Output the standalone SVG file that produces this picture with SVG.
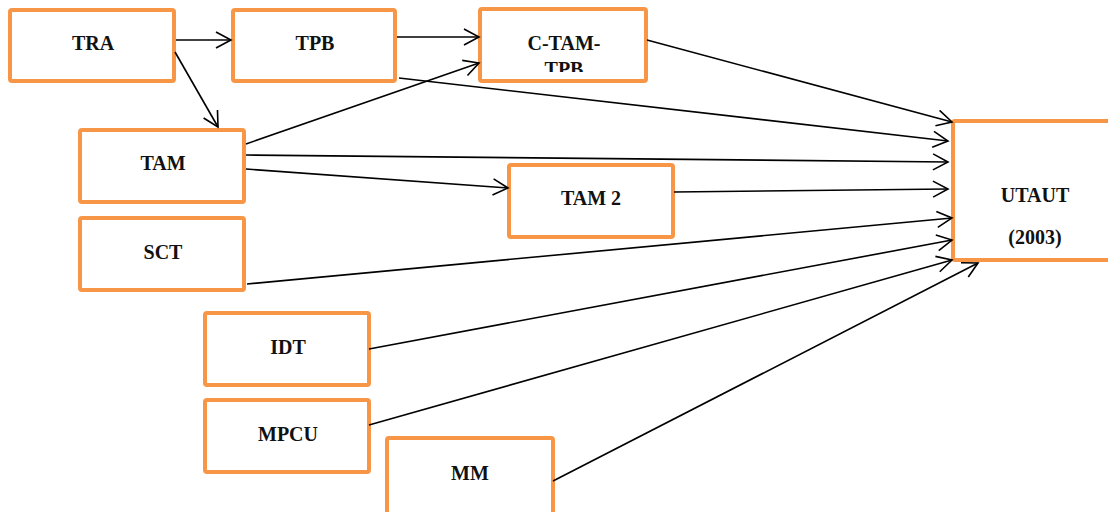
<svg xmlns="http://www.w3.org/2000/svg" width="1108" height="512" viewBox="0 0 1108 512">
  <style>
    .box { fill: #ffffff; stroke: #F79646; stroke-width: 4; }
    .lbl { font-family: "Liberation Serif", "Times New Roman", serif; font-weight: bold; font-size: 20px; fill: #111111; text-anchor: middle; }
    .edge { fill: none; stroke: #000000; stroke-width: 1.6; marker-end: url(#open); }
  </style>
  <defs>
    <marker id="open" markerUnits="userSpaceOnUse" markerWidth="20" markerHeight="20" refX="16" refY="9" orient="auto">
      <path d="M1,1 L16,9 L1,17" fill="none" stroke="#000000" stroke-width="1.6"/>
    </marker>
    <clipPath id="ctamClip">
      <rect x="482" y="11" width="162" height="61"/>
    </clipPath>
  </defs>
  <rect width="1108" height="512" fill="#ffffff"/>

  <g id="TRA">
    <rect class="box" x="10" y="10" width="164" height="71" rx="2"/>
    <text class="lbl" x="93" y="50">TRA</text>
  </g>
  <g id="TPB">
    <rect class="box" x="233" y="10" width="162" height="71" rx="2"/>
    <text class="lbl" x="315" y="50">TPB</text>
  </g>
  <g id="C-TAM-TPB">
    <rect class="box" x="480" y="9" width="166" height="72" rx="2"/>
    <g clip-path="url(#ctamClip)">
      <text class="lbl" x="564" y="50">C-TAM-</text>
      <text class="lbl" x="564" y="76">TPB</text>
    </g>
  </g>
  <g id="TAM">
    <rect class="box" x="80" y="130" width="164" height="72" rx="2"/>
    <text class="lbl" x="163" y="170">TAM</text>
  </g>
  <g id="TAM2">
    <rect class="box" x="509" y="165" width="164" height="72" rx="2"/>
    <text class="lbl" x="591" y="205">TAM 2</text>
  </g>
  <g id="SCT">
    <rect class="box" x="80" y="218" width="164" height="72" rx="2"/>
    <text class="lbl" x="163" y="259">SCT</text>
  </g>
  <g id="IDT">
    <rect class="box" x="205" y="313" width="164" height="72" rx="2"/>
    <text class="lbl" x="288" y="354">IDT</text>
  </g>
  <g id="MPCU">
    <rect class="box" x="205" y="400" width="164" height="72" rx="2"/>
    <text class="lbl" x="288" y="441">MPCU</text>
  </g>
  <g id="MM">
    <rect class="box" x="387" y="438" width="166" height="82" rx="2"/>
    <text class="lbl" x="470" y="480">MM</text>
  </g>
  <g id="UTAUT">
    <rect class="box" x="953" y="121" width="170" height="139" rx="2"/>
    <text class="lbl" x="1035" y="202">UTAUT</text>
    <text class="lbl" x="1035" y="244">(2003)</text>
  </g>

  <g id="connectors">
    <line class="edge" x1="176" y1="40" x2="231" y2="40"/>
    <line class="edge" x1="175" y1="52" x2="218" y2="127"/>
    <line class="edge" x1="397" y1="37" x2="479" y2="37"/>
    <line class="edge" x1="246" y1="144" x2="479" y2="63"/>
    <line class="edge" x1="647" y1="40" x2="952" y2="122"/>
    <line class="edge" x1="399" y1="78" x2="948" y2="141"/>
    <line class="edge" x1="246" y1="155" x2="948" y2="162"/>
    <line class="edge" x1="246" y1="169" x2="508" y2="188"/>
    <line class="edge" x1="674" y1="192" x2="948" y2="189"/>
    <line class="edge" x1="247" y1="284" x2="952" y2="218"/>
    <line class="edge" x1="369" y1="349" x2="952" y2="240"/>
    <line class="edge" x1="369" y1="425" x2="952" y2="260"/>
    <line class="edge" x1="553" y1="481" x2="978" y2="263"/>
  </g>
</svg>
